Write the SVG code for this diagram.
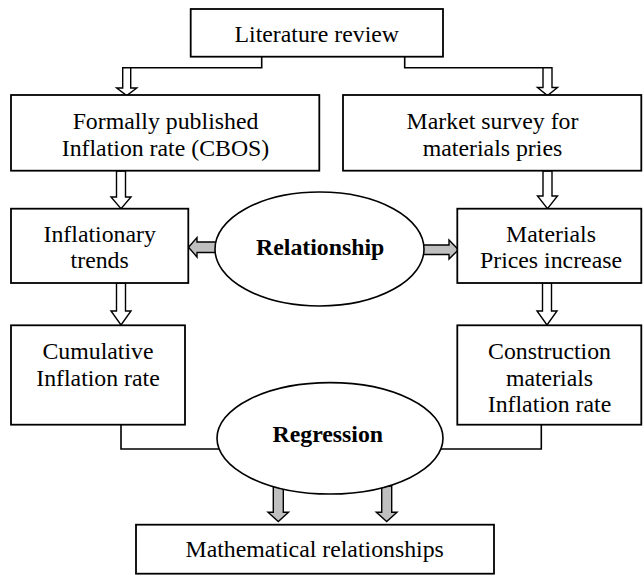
<svg xmlns="http://www.w3.org/2000/svg" width="643" height="575" viewBox="0 0 643 575">
<style>
.box{fill:#fff;stroke:#000;stroke-width:1.8}
.ell{fill:#fff;stroke:#000;stroke-width:1.6}
.t{font-family:'Liberation Serif','Times New Roman','DejaVu Serif',serif;font-size:23.8px;fill:#000;text-anchor:middle}
.b{font-weight:bold}
.line{fill:none;stroke:#000;stroke-width:1.6}
.ha{fill:#fff;stroke:#000;stroke-width:1.4;stroke-linejoin:miter}
.ga{fill:#bfbfbf;stroke:#000;stroke-width:1.4;stroke-linejoin:miter}
</style>
<rect width="643" height="575" fill="#fff"/>
<g id="connectors">
  <polyline class="line" points="261.7,56.7 261.7,67.7 122.7,67.7"/>
  <polyline class="line" points="404.7,56.7 404.7,67.7 552,67.7"/>
  <path class="ha" d="M122.7,67.7 H130.7 V88 H136.7 L126.7,95.5 L116.7,88 H122.7 Z"/>
  <path class="ha" d="M543,67.7 H552 V87.5 H557.5 L547.5,95.5 L537.5,87.5 H543 Z"/>
  <path class="ha" d="M116.5,171 H125.5 V197 H131 L121,208.7 L111,197 H116.5 Z"/>
  <path class="ha" d="M116.5,283 H125.5 V311 H131 L121,325 L111,311 H116.5 Z"/>
  <path class="ha" d="M543,171 H552 V196 H557.5 L547.5,208.7 L537.5,196 H543 Z"/>
  <path class="ha" d="M542.5,283 H551.5 V311 H557 L547,325 L537,311 H542.5 Z"/>
  <path class="ga" d="M218,242 V252.5 H197 V257 L188.5,247.2 L197,237.5 V242 Z"/>
  <path class="ga" d="M420,245 V254.5 H449 V259 L458.5,249.7 L449,240 V245 Z"/>
  <path class="ga" d="M273.3,486 H283.3 V512.3 H288.5 L278.3,521.5 L268,512.3 H273.3 Z"/>
  <path class="ga" d="M381.7,486 H391.7 V512.3 H397 L386.7,521.5 L376.3,512.3 H381.7 Z"/>
  <polyline class="line" points="121,424.7 121,449 222,449"/>
  <polyline class="line" points="541.3,424.7 541.3,449 438,449"/>
</g>
<g id="literature-review">
  <rect class="box" x="190.7" y="9" width="252.3" height="47.7"/>
  <text class="t" x="316.8" y="41.7" font-family="Liberation Serif, serif">Literature review</text>
</g>
<g id="formally-published">
  <rect class="box" x="11" y="95" width="308.3" height="75.7"/>
  <text class="t" x="165.5" y="129">Formally published</text>
  <text class="t" x="165.5" y="156">Inflation rate (CBOS)</text>
</g>
<g id="market-survey">
  <rect class="box" x="343" y="95" width="298.3" height="75.7"/>
  <text class="t" x="492.5" y="129">Market survey for</text>
  <text class="t" x="492.5" y="156">materials pries</text>
</g>
<g id="inflationary-trends">
  <rect class="box" x="11" y="208.7" width="177.3" height="74.3"/>
  <text class="t" x="99.7" y="242">Inflationary</text>
  <text class="t" x="99.7" y="268">trends</text>
</g>
<g id="materials-prices">
  <rect class="box" x="457.3" y="208.7" width="184" height="74.3"/>
  <text class="t" x="551" y="242">Materials</text>
  <text class="t" x="551" y="268">Prices increase</text>
</g>
<g id="relationship">
  <ellipse class="ell" cx="319.5" cy="249" rx="104.5" ry="57"/>
  <text class="t b" x="320.2" y="255.3">Relationship</text>
</g>
<g id="cumulative-inflation">
  <rect class="box" x="11" y="325.3" width="174" height="99.4"/>
  <text class="t" x="98" y="358.7">Cumulative</text>
  <text class="t" x="98" y="385.7">Inflation rate</text>
</g>
<g id="construction-materials">
  <rect class="box" x="457.3" y="325.3" width="184" height="99.4"/>
  <text class="t" x="549.5" y="358.7">Construction</text>
  <text class="t" x="549.5" y="385.5">materials</text>
  <text class="t" x="549.5" y="412.3">Inflation rate</text>
</g>
<g id="regression">
  <ellipse class="ell" cx="330" cy="438.3" rx="113" ry="55.7"/>
  <text class="t b" x="327.8" y="442.3">Regression</text>
</g>
<g id="mathematical-relationships">
  <rect class="box" x="136" y="524.7" width="358" height="49"/>
  <text class="t" x="314.7" y="557.3">Mathematical relationships</text>
</g>
</svg>
